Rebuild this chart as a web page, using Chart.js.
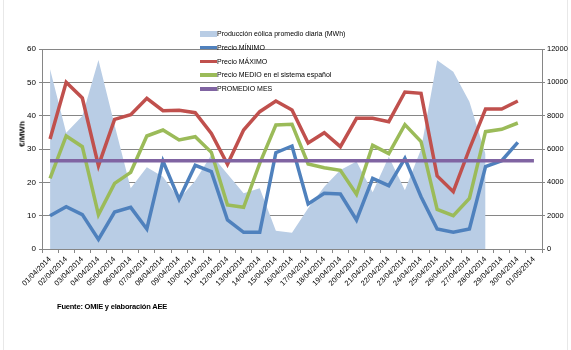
<!DOCTYPE html>
<html>
<head>
<meta charset="utf-8">
<script src="https://cdn.jsdelivr.net/npm/chart.js@4"></script>
<style>
  body { margin: 0; background: #fff; font-family: "Liberation Sans", Arial, sans-serif; }
  #wrap { position: relative; width: 571px; height: 350px; overflow: hidden; }
  #frame { position: absolute; left: 3px; top: 0; width: 565px; height: 350px; box-sizing: border-box;
           border-left: 1px solid #e8e8e8; border-right: 1px solid #e8e8e8; }
  canvas { position: absolute; left: 0; top: 0; }
  .leg { position: absolute; left: 200px; height: 12px; font-size: 7px; color: #000; white-space: nowrap; }
  .leg i { position: absolute; left: 0; width: 17px; }
  .leg span { position: absolute; left: 17px; top: 0; line-height: 12px; }
  #ytitle { position: absolute; left: 22px; top: 134px; font-size: 8px; font-weight: bold;
            transform: translate(-50%, -50%) rotate(-90deg); white-space: nowrap; }
  #fuente { position: absolute; left: 57px; top: 302px; font-size: 7.5px; font-weight: bold; letter-spacing: -0.2px; }
</style>
</head>
<body>
<div id="wrap">
  <div id="frame"></div>
  <canvas id="chart" width="571" height="350"></canvas>
  <div id="ytitle">€/MWh</div>
  <div id="fuente">Fuente: OMIE  y elaboración AEE</div>
  <div id="legend"></div>
</div>
<script>
// dias de abril 2014 + 01/05
const dias = [
  "01/04/2014", "02/04/2014", "03/04/2014", "04/04/2014", "05/04/2014", "06/04/2014",
  "07/04/2014", "08/04/2014", "09/04/2014", "10/04/2014", "11/04/2014", "12/04/2014",
  "13/04/2014", "14/04/2014", "15/04/2014", "16/04/2014", "17/04/2014", "18/04/2014",
  "19/04/2014", "20/04/2014", "21/04/2014", "22/04/2014", "23/04/2014", "24/04/2014",
  "25/04/2014", "26/04/2014", "27/04/2014", "28/04/2014", "29/04/2014", "30/04/2014",
  "01/05/2014"
];

// produccion eolica (MWh), eje derecho
const eolica = [10780, 6980, 7980, 11340, 7440, 3640, 4900, 4340, 3000, 4100,
  5650, 4500, 3340, 3650, 1100, 980, 2450, 3740, 4740, 5250,
  3400, 5530, 3530, 5980, 11320, 10640, 8840, 5680, null, null, null];

// precios (€/MWh), eje izquierdo
const precioMin = [10.0, 12.7, 10.3, 2.9, 11.1, 12.5, 6.0, 26.4, 14.9, 25.1,
  23.2, 8.7, 5.0, 5.0, 28.9, 30.9, 13.5, 16.7, 16.5, 8.7,
  21.2, 19.0, 27.2, 15.7, 6.0, 5.0, 6.0, 24.7, 26.5, 32.0, null];
const precioMax = [33.0, 50.0, 45.3, 25.0, 38.9, 40.3, 45.2, 41.5, 41.6, 40.9,
  34.7, 25.4, 35.7, 41.2, 44.4, 41.7, 31.8, 34.9, 30.7, 39.2,
  39.2, 38.2, 47.1, 46.7, 21.9, 17.2, 30.0, 42.0, 42.0, 44.4, null];
const precioMedio = [21.2, 33.9, 30.7, 10.3, 19.7, 23.0, 33.9, 35.7, 32.7, 33.7,
  29.0, 13.2, 12.5, 25.7, 37.2, 37.4, 25.5, 24.4, 23.6, 16.4,
  31.1, 28.6, 37.3, 32.2, 11.9, 10.0, 15.2, 35.2, 35.9, 37.8, null];
const promedioMes = 26.5;

const series = [
  { label: "Producción eólica promedio diaria (MWh)", color: "#b9cde5", area: true },
  { label: "Precio MÍNIMO", color: "#4f81bd" },
  { label: "Precio MÁXIMO", color: "#c0504d" },
  { label: "Precio MEDIO en el sistema español", color: "#9bbb59" },
  { label: "PROMEDIO MES", color: "#8064a2" }
];

function lineSet(i, data, order) {
  return {
    label: series[i].label,
    data: data,
    yAxisID: "y",
    borderColor: series[i].color,
    borderWidth: 3.5,
    pointRadius: 0,
    tension: 0,
    fill: false,
    order: order
  };
}

const gris = "#868686";
const tickFont = { family: "Liberation Sans", size: 8 };

new Chart(document.getElementById("chart"), {
  type: "line",
  data: {
    labels: dias,
    datasets: [
      {
        label: series[0].label,
        data: eolica,
        yAxisID: "y1",
        backgroundColor: series[0].color,
        borderWidth: 0,
        pointRadius: 0,
        tension: 0,
        fill: "origin",
        order: 4
      },
      lineSet(1, precioMin, 3),
      lineSet(2, precioMax, 2),
      lineSet(3, precioMedio, 1),
      lineSet(4, dias.map(() => promedioMes), 0)
    ]
  },
  options: {
    responsive: false,
    animation: false,
    layout: { padding: { top: 49, left: 0, right: 0, bottom: 0 } },
    plugins: { legend: { display: false }, tooltip: { enabled: false } },
    scales: {
      x: {
        offset: true,
        grid: { offset: true, drawOnChartArea: false, drawTicks: true, tickLength: 4, color: gris },
        border: { color: gris },
        ticks: { autoSkip: false, minRotation: 45, maxRotation: 45, font: { family: "Liberation Sans", size: 7.5 }, color: "#000", padding: 2 },
        afterFit: s => { s.height = 101; }
      },
      y: {
        position: "left",
        min: 0, max: 60,
        ticks: { stepSize: 10, font: tickFont, color: "#000", padding: 3 },
        grid: { color: gris, tickLength: 3 },
        border: { color: gris },
        afterFit: s => { s.width = 42; }
      },
      y1: {
        position: "right",
        min: 0, max: 12000,
        ticks: { stepSize: 2000, font: { family: "Liberation Sans", size: 7.5 }, color: "#000", padding: 2,
                 callback: v => String(v) },
        grid: { drawOnChartArea: false, color: gris, tickLength: 3 },
        border: { color: gris },
        afterFit: s => { s.width = 29; }
      }
    }
  }
});

// leyenda
const tops = [28, 41.5, 55.5, 69, 83];
let html = "";
series.forEach((s, i) => {
  const sw = s.area
    ? `<i style="top:3px;height:6px;background:${s.color}"></i>`
    : `<i style="top:4px;height:3.5px;background:${s.color}"></i>`;
  html += `<div class="leg" style="top:${tops[i]}px">${sw}<span>${s.label}</span></div>`;
});
document.getElementById("legend").innerHTML = html;
</script>
</body>
</html>
